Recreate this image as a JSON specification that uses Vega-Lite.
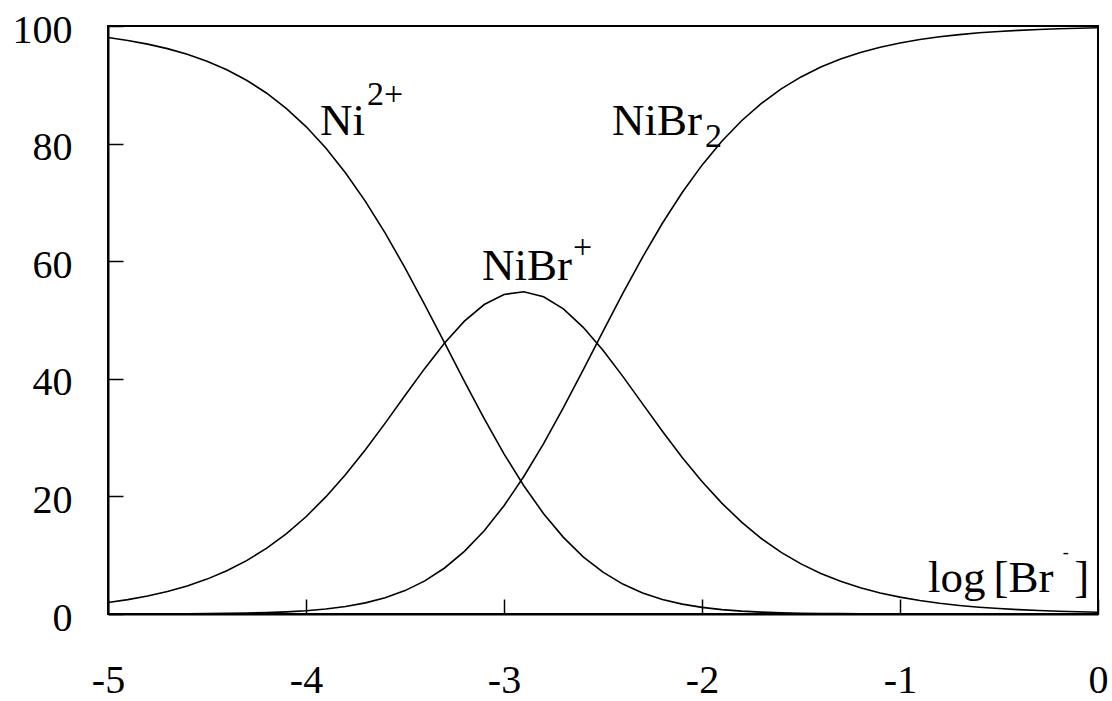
{
  "$schema": "https://vega.github.io/schema/vega-lite/v6.json",
  "autosize": {"type": "none"},
  "padding": {"left": 108, "top": 26, "right": 14, "bottom": 87},
  "width": 990,
  "height": 588,
  "background": "white",
  "config": {
    "view": {"stroke": "black", "strokeWidth": 2},
    "axis": {
      "grid": false,
      "labelFont": "Liberation Serif",
      "labelFontSize": 40,
      "labelColor": "black",
      "tickColor": "black",
      "tickWidth": 1.5,
      "tickSize": -15,
      "domainColor": "black",
      "domainWidth": 2,
      "labelFlush": false,
      "labelOverlap": false
    }
  },
  "datasets": {
    "curves": [
      {"L": -5.0, "Ni": 98.04, "NiBr": 1.956, "NiBr2": 0.007},
      {"L": -4.9, "Ni": 97.54, "NiBr": 2.450, "NiBr2": 0.010},
      {"L": -4.8, "Ni": 96.92, "NiBr": 3.065, "NiBr2": 0.016},
      {"L": -4.7, "Ni": 96.15, "NiBr": 3.828, "NiBr2": 0.026},
      {"L": -4.6, "Ni": 95.19, "NiBr": 4.771, "NiBr2": 0.041},
      {"L": -4.5, "Ni": 94.01, "NiBr": 5.931, "NiBr2": 0.064},
      {"L": -4.4, "Ni": 92.55, "NiBr": 7.351, "NiBr2": 0.099},
      {"L": -4.3, "Ni": 90.77, "NiBr": 9.077, "NiBr2": 0.154},
      {"L": -4.2, "Ni": 88.61, "NiBr": 11.155, "NiBr2": 0.238},
      {"L": -4.1, "Ni": 86.00, "NiBr": 13.63, "NiBr2": 0.367},
      {"L": -4.0, "Ni": 82.90, "NiBr": 16.54, "NiBr2": 0.560},
      {"L": -3.9, "Ni": 79.25, "NiBr": 19.91, "NiBr2": 0.849},
      {"L": -3.8, "Ni": 75.01, "NiBr": 23.72, "NiBr2": 1.274},
      {"L": -3.7, "Ni": 70.18, "NiBr": 27.94, "NiBr2": 1.889},
      {"L": -3.6, "Ni": 64.77, "NiBr": 32.46, "NiBr2": 2.763},
      {"L": -3.5, "Ni": 58.87, "NiBr": 37.15, "NiBr2": 3.980},
      {"L": -3.4, "Ni": 52.59, "NiBr": 41.77, "NiBr2": 5.635},
      {"L": -3.3, "Ni": 46.09, "NiBr": 46.09, "NiBr2": 7.826},
      {"L": -3.2, "Ni": 39.56, "NiBr": 49.80, "NiBr2": 10.65},
      {"L": -3.1, "Ni": 33.21, "NiBr": 52.63, "NiBr2": 14.17},
      {"L": -3.0, "Ni": 27.24, "NiBr": 54.35, "NiBr2": 18.41},
      {"L": -2.9, "Ni": 21.82, "NiBr": 54.80, "NiBr2": 23.38},
      {"L": -2.8, "Ni": 17.06, "NiBr": 53.96, "NiBr2": 28.98},
      {"L": -2.7, "Ni": 13.03, "NiBr": 51.89, "NiBr2": 35.08},
      {"L": -2.6, "Ni": 9.730, "NiBr": 48.76, "NiBr2": 41.51},
      {"L": -2.5, "Ni": 7.107, "NiBr": 44.84, "NiBr2": 48.05},
      {"L": -2.4, "Ni": 5.087, "NiBr": 40.41, "NiBr2": 54.51},
      {"L": -2.3, "Ni": 3.574, "NiBr": 35.74, "NiBr2": 60.69},
      {"L": -2.2, "Ni": 2.469, "NiBr": 31.08, "NiBr2": 66.45},
      {"L": -2.1, "Ni": 1.680, "NiBr": 26.63, "NiBr2": 71.69},
      {"L": -2.0, "Ni": 1.129, "NiBr": 22.53, "NiBr2": 76.34},
      {"L": -1.9, "Ni": 0.750, "NiBr": 18.85, "NiBr2": 80.40},
      {"L": -1.8, "Ni": 0.494, "NiBr": 15.62, "NiBr2": 83.89},
      {"L": -1.7, "Ni": 0.323, "NiBr": 12.84, "NiBr2": 86.83},
      {"L": -1.6, "Ni": 0.209, "NiBr": 10.49, "NiBr2": 89.30},
      {"L": -1.5, "Ni": 0.135, "NiBr": 8.524, "NiBr2": 91.34},
      {"L": -1.4, "Ni": 0.087, "NiBr": 6.896, "NiBr2": 93.02},
      {"L": -1.3, "Ni": 0.056, "NiBr": 5.558, "NiBr2": 94.39},
      {"L": -1.2, "Ni": 0.035, "NiBr": 4.467, "NiBr2": 95.50},
      {"L": -1.1, "Ni": 0.023, "NiBr": 3.581, "NiBr2": 96.40},
      {"L": -1.0, "Ni": 0.014, "NiBr": 2.866, "NiBr2": 97.12},
      {"L": -0.9, "Ni": 0.009, "NiBr": 2.290, "NiBr2": 97.70},
      {"L": -0.8, "Ni": 0.006, "NiBr": 1.828, "NiBr2": 98.17},
      {"L": -0.7, "Ni": 0.004, "NiBr": 1.458, "NiBr2": 98.54},
      {"L": -0.6, "Ni": 0.002, "NiBr": 1.161, "NiBr2": 98.84},
      {"L": -0.5, "Ni": 0.001, "NiBr": 0.925, "NiBr2": 99.07},
      {"L": -0.4, "Ni": 0.001, "NiBr": 0.736, "NiBr2": 99.26},
      {"L": -0.3, "Ni": 0.001, "NiBr": 0.585, "NiBr2": 99.41},
      {"L": -0.2, "Ni": 0.000, "NiBr": 0.466, "NiBr2": 99.53},
      {"L": -0.1, "Ni": 0.000, "NiBr": 0.370, "NiBr2": 99.63},
      {"L": 0.0, "Ni": 0.000, "NiBr": 0.294, "NiBr2": 99.71}
    ],
    "labels": [
      {"text": "Ni", "L": -3.929, "value": 81.46, "kind": "main"},
      {"text": "NiBr", "L": -3.111, "value": 56.8, "kind": "main"},
      {"text": "NiBr", "L": -2.455, "value": 81.46, "kind": "main"},
      {"text": "log", "L": -0.859, "value": 3.74, "kind": "main"},
      {"text": "[Br", "L": -0.528, "value": 3.74, "kind": "main"},
      {"text": "]", "L": -0.12, "value": 3.74, "kind": "main"},
      {"text": "2+", "L": -3.692, "value": 86.56, "kind": "script"},
      {"text": "+", "L": -2.652, "value": 60.54, "kind": "script"},
      {"text": "2", "L": -1.985, "value": 79.42, "kind": "script"},
      {"text": "-", "L": -0.178, "value": 9.6, "kind": "small"}
    ]
  },
  "encoding": {
    "x": {
      "field": "L", "type": "quantitative",
      "scale": {"domain": [-5, 0], "nice": false, "zero": false},
      "axis": {"title": null, "values": [-5, -4, -3, -2, -1, 0], "labelPadding": 61, "labelBaseline": "top", "labelExpr": "datum.value < 0 ? '-' + abs(datum.value) : '' + datum.value"}
    },
    "y": {
      "field": "value", "type": "quantitative",
      "scale": {"domain": [0, 100], "nice": false},
      "axis": {"title": null, "values": [0, 20, 40, 60, 80, 100], "labelPadding": 51, "labelOffset": 4}
    }
  },
  "layer": [
    {
      "data": {"name": "curves"},
      "transform": [{"fold": ["Ni", "NiBr", "NiBr2"], "as": ["species", "value"]}],
      "mark": {"type": "line", "stroke": "black", "strokeWidth": 1.6, "clip": true},
      "encoding": {
        "detail": {"field": "species"}
      }
    },
    {
      "data": {"name": "labels"},
      "transform": [{"filter": "datum.kind === 'main'"}],
      "mark": {"type": "text", "font": "Liberation Serif", "fontSize": 45, "align": "left", "baseline": "alphabetic", "color": "black"},
      "encoding": {
        "text": {"field": "text"}
      }
    },
    {
      "data": {"name": "labels"},
      "transform": [{"filter": "datum.kind === 'script'"}],
      "mark": {"type": "text", "font": "Liberation Serif", "fontSize": 34, "align": "left", "baseline": "alphabetic", "color": "black"},
      "encoding": {
        "text": {"field": "text"}
      }
    },
    {
      "data": {"name": "labels"},
      "transform": [{"filter": "datum.kind === 'small'"}],
      "mark": {"type": "text", "font": "Liberation Serif", "fontSize": 18, "align": "left", "baseline": "alphabetic", "color": "black"},
      "encoding": {
        "text": {"field": "text"}
      }
    }
  ]
}
